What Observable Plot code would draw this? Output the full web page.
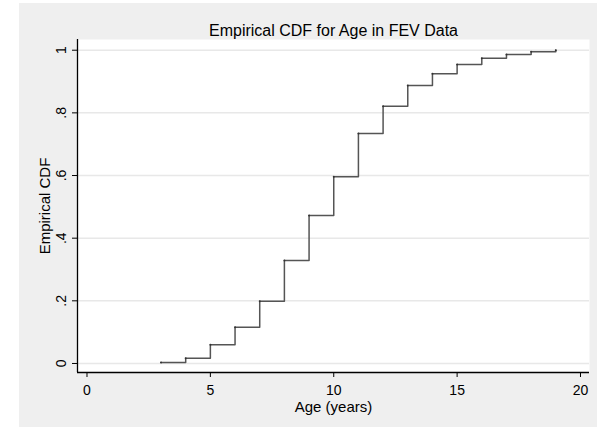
<!DOCTYPE html>
<html>
<head>
<meta charset="utf-8">
<script src="https://cdn.jsdelivr.net/npm/d3@7"></script>
<script src="https://cdn.jsdelivr.net/npm/@observablehq/plot@0.6"></script>
<style>
  html, body { margin: 0; padding: 0; background: #fff; }
  #wrap { position: relative; width: 597px; height: 427px; background: #fff; overflow: hidden; }
  #bg { position: absolute; left: 19px; top: 3px; right: 0; bottom: 0; background: #efefef; }
  #chart { position: absolute; left: 0; top: 0; }
</style>
</head>
<body>
<div id="wrap"><div id="bg"></div><div id="chart"></div></div>
<script>
const ages = [3, 4, 5, 6, 7, 8, 9, 10, 11, 12, 13, 14, 15, 16, 17, 18, 19];
const ecdf = [0.003, 0.017, 0.060, 0.116, 0.199, 0.329, 0.472, 0.596, 0.734, 0.821, 0.887, 0.925, 0.954, 0.974, 0.986, 0.995, 1.0];
const xTicks = [0, 5, 10, 15, 20];
const yTicks = [0, 0.2, 0.4, 0.6, 0.8, 1];
const titleText = "Empirical CDF for Age in FEV Data";
const xLabel = "Age (years)";
const yLabel = "Empirical CDF";

const data = ages.map((a, i) => ({age: a, cdf: ecdf[i]}));
const fmtY = d => d === 0 ? "0" : d === 1 ? "1" : String(d).replace(/^0\./, ".");
const font = "'Liberation Sans', Arial, Helvetica, sans-serif";

const chart = Plot.plot({
  width: 597,
  height: 427,
  marginLeft: 77,
  marginRight: 8,
  marginTop: 39,
  marginBottom: 55,
  style: {background: "transparent", fontFamily: font, color: "#000"},
  x: {domain: [-0.385, 20.365]},
  y: {domain: [-0.0288, 1.0342]},
  marks: [
    Plot.frame({fill: "white", stroke: "none"}),
    Plot.ruleY(yTicks, {stroke: "#e8e8e8", strokeWidth: 1.5}),
    Plot.line(data, {x: "age", y: "cdf", curve: "step-after", stroke: "#555", strokeWidth: 1.5}),
    Plot.dot(data, {x: "age", y: "cdf", r: 1, fill: "#333", stroke: "none"}),
    Plot.ruleX([-0.385], {stroke: "#000", strokeWidth: 1.3}),
    Plot.ruleY([-0.0288], {stroke: "#000", strokeWidth: 1.3}),
    Plot.axisY({ticks: yTicks, tickSize: 5, tickFormat: () => "", label: null, stroke: "#000"}),
    Plot.axisX({ticks: xTicks, tickSize: 5, tickFormat: () => "", label: null, stroke: "#000"}),
    Plot.text(yTicks, {y: d => d, text: fmtY, frameAnchor: "left", dx: -12, rotate: -90,
      textAnchor: "middle", lineAnchor: "bottom", fontSize: 14, fill: "#000"}),
    Plot.text(xTicks, {x: d => d, text: d => String(d), frameAnchor: "bottom", dy: 22,
      textAnchor: "middle", lineAnchor: "bottom", fontSize: 14, fill: "#000"}),
    Plot.text([xLabel], {frameAnchor: "bottom", dy: 39, lineAnchor: "bottom", textAnchor: "middle", fontSize: 15, fill: "#000"}),
    Plot.text([yLabel], {frameAnchor: "left", dx: -28, rotate: -90, lineAnchor: "bottom", textAnchor: "middle", fontSize: 15, fill: "#000"}),
    Plot.text([titleText], {frameAnchor: "top", dy: -4, lineAnchor: "bottom", textAnchor: "middle", fontSize: 16, fill: "#000"})
  ]
});
document.getElementById("chart").appendChild(chart);
</script>
</body>
</html>
